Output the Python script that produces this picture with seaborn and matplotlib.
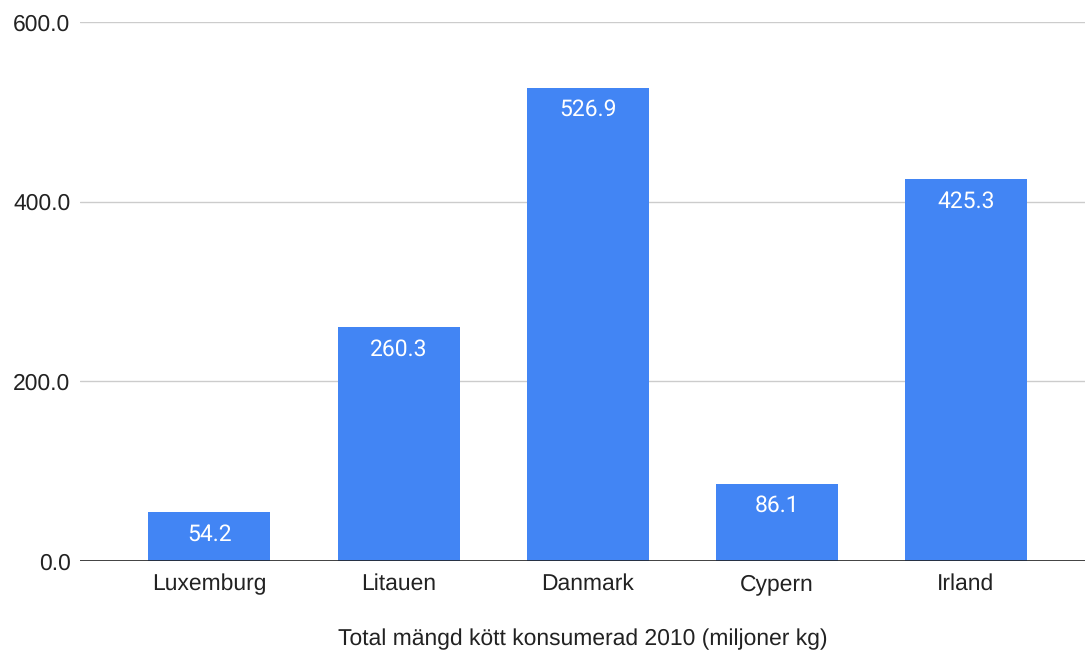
import matplotlib
matplotlib.use('Agg')
import matplotlib.pyplot as plt
import seaborn as sns
import pandas as pd

countries = ['Luxemburg', 'Litauen', 'Danmark', 'Cypern', 'Irland']
values = [54.2, 260.3, 526.9, 86.1, 425.3]
yticks = [0, 200, 400, 600]

sns.set_theme(style='white')
plt.rcParams['font.family'] = ['Liberation Sans', 'DejaVu Sans']
plt.rcParams['text.hinting'] = 'no_hinting'

df = pd.DataFrame({'land': countries, 'mangd': values})

fig = plt.figure(figsize=(10.85, 6.55), dpi=100)
ax = fig.add_axes([0.074, 0.1435, 0.926, 0.8229])

sns.barplot(data=df, x='land', y='mangd', color='#4285F4', saturation=1,
            width=0.645, ax=ax, zorder=3, linewidth=0)

# värdeetiketter inne i staplarna
for p, v in zip(ax.patches, values):
    ax.annotate(f'{v:.1f}', (p.get_x() + p.get_width() / 2, p.get_height()),
                xytext=(0, -8), textcoords='offset points',
                ha='center', va='top', color='white', fontsize=16.5,
                family=['Roboto', 'DejaVu Sans'])

ax.set_ylim(0, 600)
ax.set_xlim(-0.683, 4.63)
ax.set_yticks(yticks)
ax.set_yticklabels([f'{t:.1f}' for t in yticks], fontsize=16.5, color='#222222')
ax.tick_params(axis='x', labelsize=16.5, colors='#222222', length=0, pad=9)
ax.tick_params(axis='y', length=0, pad=7)
ax.grid(axis='y', color='#cccccc', linewidth=1, zorder=0)
ax.axhline(0, color='#222222', linewidth=1.2, zorder=4)
for s in ax.spines.values():
    s.set_visible(False)

ax.set_ylabel('')
ax.set_xlabel('Total mängd kött konsumerad 2010 (miljoner kg)', fontsize=16.5,
              color='#222222', labelpad=24)

fig.savefig('out.png', dpi=100)
